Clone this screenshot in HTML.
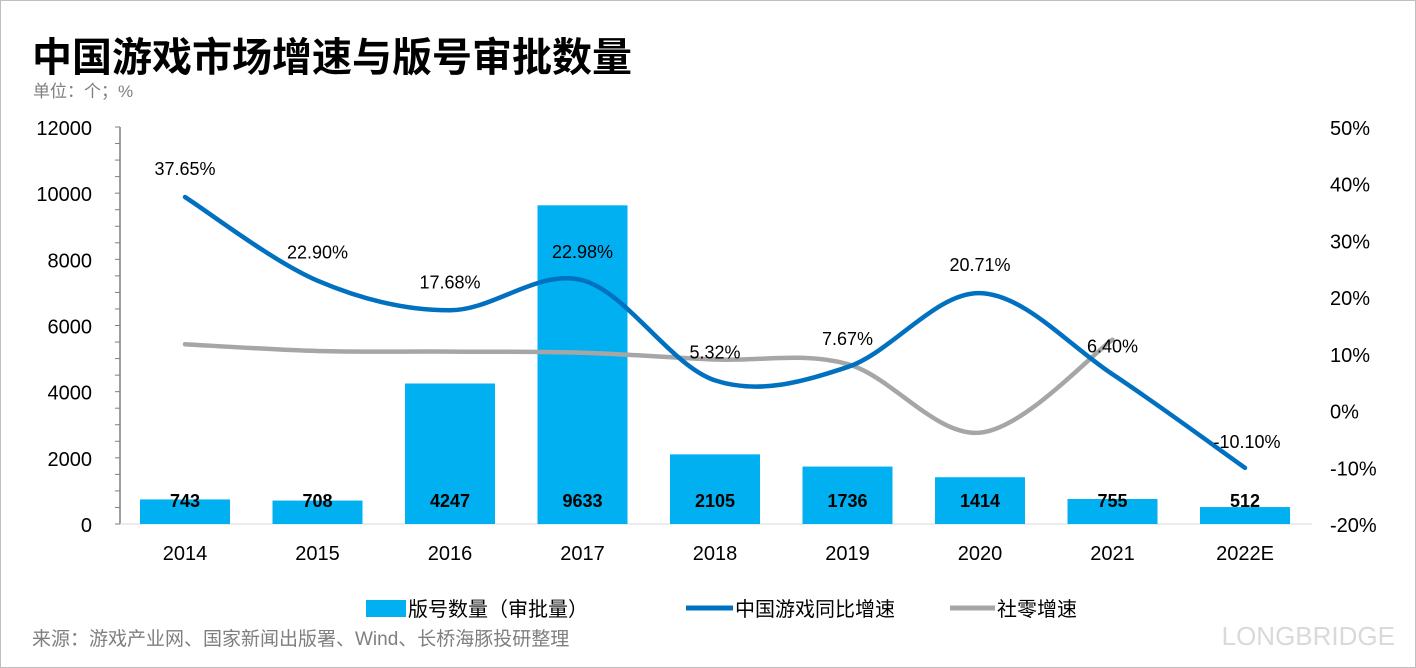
<!DOCTYPE html>
<html><head><meta charset="utf-8"><style>
body{margin:0;background:#fff;}
#wrap{position:relative;width:1416px;height:668px;overflow:hidden;font-family:"Liberation Sans","Noto Sans CJK SC",sans-serif;}
svg text{font-family:"Liberation Sans","Noto Sans CJK SC",sans-serif;}
</style></head><body>
<div id="wrap">
<svg id="c" width="1416" height="668">
<rect x="0.5" y="0.5" width="1415" height="667" fill="#fff" stroke="#bfbfbf"/>
<text x="32" y="71" font-size="40" font-weight="bold" fill="#000">中国游戏市场增速与版号审批数量</text>
<text x="33" y="97" font-size="17" fill="#7f7f7f">单位：个；%</text>
<text x="32" y="645" font-size="19" fill="#7f7f7f">来源：游戏产业网、国家新闻出版署、Wind、长桥海豚投研整理</text>
<text x="1395" y="645" font-size="26" fill="#d9d9d9" text-anchor="end">LONGBRIDGE</text>
<g id="plot"></g>
<g>
<rect x="366" y="600" width="40" height="17" fill="#00b0f0"/>
<text x="408" y="616" font-size="20">版号数量（审批量）</text>
<line x1="686" y1="608" x2="733" y2="608" stroke="#0070c0" stroke-width="5"/>
<text x="735" y="616" font-size="20">中国游戏同比增速</text>
<line x1="950" y1="608" x2="995" y2="608" stroke="#a6a6a6" stroke-width="5"/>
<text x="997" y="616" font-size="20">社零增速</text>
</g>
</svg></div>
<script>
const categories=["2014","2015","2016","2017","2018","2019","2020","2021","2022E"];
const approvals=[743,708,4247,9633,2105,1736,1414,755,512];
const gameGrowth=[37.65,22.90,17.68,22.98,5.32,7.67,20.71,6.40,-10.10];
const retailGrowth=[11.7,10.5,10.4,10.2,9.0,8.2,-3.9,12.5];
const leftTicks=[0,2000,4000,6000,8000,10000,12000];
const rightTicks=[-20,-10,0,10,20,30,40,50];

const NS="http://www.w3.org/2000/svg";
const plot=document.getElementById('plot');
const x0=185,dx=132.5,yB=524,yT=127;
const xs=i=>x0+i*dx;
const yL=v=>yB-(v/12000)*(yB-yT);
const yR=v=>yB-((v+20)/70)*(yB-yT);
function mk(t,a){const e=document.createElementNS(NS,t);for(const k in a)e.setAttribute(k,a[k]);plot.appendChild(e);return e;}

let ax=mk('line',{x1:120,y1:yT,x2:120,y2:yB,stroke:'#7f7f7f','stroke-width':1.5});


for(let v=0;v<=12000;v+=500){let t=mk('line',{x1:115,y1:yL(v),x2:120,y2:yL(v),stroke:'#7f7f7f'});

}
leftTicks.forEach(v=>{let t=mk('text',{x:92,y:yL(v)+8,'font-size':20,'text-anchor':'end'});t.textContent=v;

});
rightTicks.forEach(v=>{let t=mk('text',{x:1330,y:yR(v)+8,'font-size':20});t.textContent=v+'%';

});
let bl=mk('line',{x1:120,y1:yB,x2:1312,y2:yB,stroke:'#d9d9d9'});



categories.forEach((c,i)=>{
 let b=mk('rect',{x:xs(i)-45,y:yL(approvals[i]),width:90,height:yB-yL(approvals[i]),fill:'#00b0f0'});
 
 
 let t=mk('text',{x:xs(i),y:yB-17,'font-size':18,'font-weight':'bold','text-anchor':'middle'});t.textContent=approvals[i];
 
 
 let l=mk('text',{x:xs(i),y:560,'font-size':20,'text-anchor':'middle'});l.textContent=c;
 
 
});
function smooth(pts){let d='M'+pts[0][0]+','+pts[0][1];
 for(let i=0;i<pts.length-1;i++){const p0=pts[i-1]||pts[i],p1=pts[i],p2=pts[i+1],p3=pts[i+2]||p2;
 const c1=[p1[0]+(p2[0]-p0[0])/6,p1[1]+(p2[1]-p0[1])/6],c2=[p2[0]-(p3[0]-p1[0])/6,p2[1]-(p3[1]-p1[1])/6];
 d+=` C${c1[0]},${c1[1]} ${c2[0]},${c2[1]} ${p2[0]},${p2[1]}`;}return d;}
let gp=mk('path',{d:smooth(retailGrowth.map((v,i)=>[xs(i),yR(v)])),fill:'none',stroke:'#a6a6a6','stroke-width':4.5,'stroke-linecap':'round'});


let bp=mk('path',{d:smooth(gameGrowth.map((v,i)=>[xs(i),yR(v)])),fill:'none',stroke:'#0070c0','stroke-width':4.5,'stroke-linecap':'round'});


gameGrowth.forEach((v,i)=>{let t=mk('text',{x:xs(i)+(i==8?2:0),y:yR(v)-(i==8?20:22),'font-size':18,'text-anchor':'middle'});t.textContent=v.toFixed(2)+'%';
 
 });
</script>
</body></html>
